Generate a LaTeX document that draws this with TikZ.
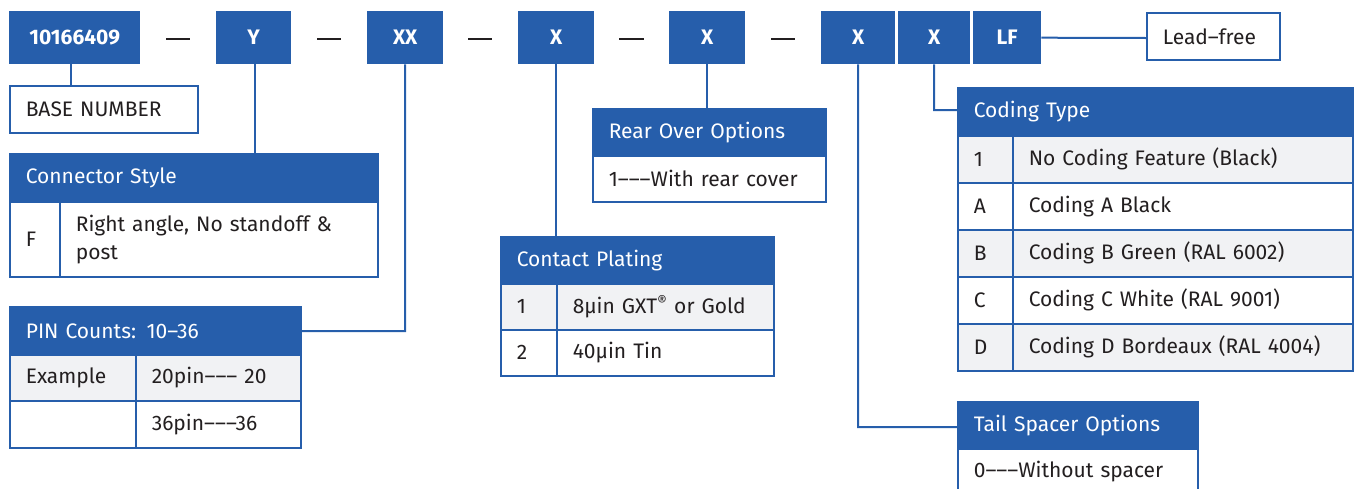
\documentclass[tikz,border=0pt]{standalone}
\usepackage{fontspec}
\setmainfont{Fira Sans}
\definecolor{tblue}{RGB}{38,94,171}
\definecolor{tgray}{RGB}{241,242,244}
\definecolor{ttext}{RGB}{35,31,32}
\newcommand\cellbox[7]{\pgfmathsetmacro\cbtw{#4-32}\node[cell,#6,minimum height=#5pt,text width=\cbtw pt] (#1) at (#2,#3) {#7};}
\begin{document}
\begin{tikzpicture}[x=1pt,y=-1pt,
  topbox/.style={fill=tblue,text=white,font=\bfseries\fontsize{21}{25}\selectfont,inner sep=0pt,anchor=north west},
  cell/.style={draw=tblue,line width=1.6pt,anchor=north west,inner xsep=16pt,inner ysep=0pt,align=left,text=ttext,font=\fontsize{21}{25}\selectfont,fill=white},
  head/.style={fill=tblue,text=white},
  gray/.style={fill=tgray},
  conn/.style={draw=tblue,line width=2pt},
  dashline/.style={draw=ttext,line width=2.5pt}]
\useasboundingbox (0,0) rectangle (1354,488);
% top row
\node[topbox,minimum width=131pt,minimum height=53pt] (pn) at (9,11) {10166409};
\node[topbox,minimum width=75pt,minimum height=53pt] (y) at (216,11) {Y};
\node[topbox,minimum width=76pt,minimum height=53pt] (xx) at (367,11) {XX};
\node[topbox,minimum width=76pt,minimum height=53pt] (xa) at (518,11) {X};
\node[topbox,minimum width=76pt,minimum height=53pt] (xb) at (669,11) {X};
\node[topbox,minimum width=74pt,minimum height=53pt] (xc) at (821,11) {X};
\node[topbox,minimum width=72pt,minimum height=53pt] (xd) at (898,11) {X};
\node[topbox,minimum width=68pt,minimum height=53pt] (lf) at (973,11) {LF};
\draw[dashline] (166,39) -- (190,39);
\draw[dashline] (317,39) -- (341,39);
\draw[dashline] (468,39) -- (492,39);
\draw[dashline] (619,39) -- (644,39);
\draw[dashline] (771,39) -- (795,39);
% connectors
\draw[conn] ([xshift=-3.5pt]pn.south) -- ++(0,22);
\draw[conn] ([xshift=1.5pt]y.south) -- ++(0,90);
\draw[conn] (xx.south) -- (405,331) -- (300,331);
\draw[conn] (xa.south) -- ++(0,173);
\draw[conn] (xb.south) -- ++(0,45);
\draw[conn] (xc.south) -- (858,427) -- (957,427);
\draw[conn] (xd.south) -- (934,110) -- (957,110);
\draw[conn] (lf.east) -- (1146,38);
% boxes
\cellbox{base}{9}{85}{188}{47}{}{BASE NUMBER}
\cellbox{lead}{1146}{12}{133}{47}{}{Lead–free}
% Connector style
\cellbox{csh}{9}{153}{368}{48}{head}{Connector Style}
\cellbox{csk}{9}{201}{50}{75}{}{F}
\cellbox{csd}{59}{201}{318}{75}{font=\fontsize{21}{28}\selectfont}{Right angle, No standoff \&\\post}
% PIN counts
\cellbox{pinh}{9}{306}{291}{48}{head}{PIN Counts: 10–36}
\cellbox{pk1}{9}{354}{126}{46}{gray}{Example}
\cellbox{pd1}{135}{354}{165}{46}{gray}{20pin––– 20}
\cellbox{pk2}{9}{400}{126}{47}{}{}
\cellbox{pd2}{135}{400}{165}{47}{}{36pin–––36}
% Contact plating
\cellbox{cph}{500}{236}{273}{47}{head}{Contact Plating}
\cellbox{ck1}{500}{283}{56}{46}{gray}{1}
\cellbox{cd1}{556}{283}{217}{46}{gray}{8µin GXT\textsuperscript{®} or Gold}
\cellbox{ck2}{500}{329}{56}{46}{}{2}
\cellbox{cd2}{556}{329}{217}{46}{}{40µin Tin}
% Rear over options
\cellbox{roh}{592}{108}{233}{47}{head}{Rear Over Options}
\cellbox{rod}{592}{155}{233}{46}{}{1–––With rear cover}
% Coding type
\cellbox{cth}{957}{87}{395}{48}{head}{Coding Type}
\cellbox{tk1}{957}{135}{55}{47}{gray}{1}
\cellbox{td1}{1012}{135}{340}{47}{gray}{No Coding Feature (Black)}
\cellbox{tk2}{957}{182}{55}{47}{}{A}
\cellbox{td2}{1012}{182}{340}{47}{}{Coding A Black}
\cellbox{tk3}{957}{229}{55}{47}{gray}{B}
\cellbox{td3}{1012}{229}{340}{47}{gray}{Coding B Green (RAL 6002)}
\cellbox{tk4}{957}{276}{55}{47}{}{C}
\cellbox{td4}{1012}{276}{340}{47}{}{Coding C White (RAL 9001)}
\cellbox{tk5}{957}{323}{55}{47}{gray}{D}
\cellbox{td5}{1012}{323}{340}{47}{gray}{Coding D Bordeaux (RAL 4004)}
% Tail spacer
\cellbox{tsh}{957}{401}{240}{47}{head}{Tail Spacer Options}
\cellbox{tsd}{957}{448}{240}{46}{}{0–––Without spacer}
\end{tikzpicture}
\end{document}
